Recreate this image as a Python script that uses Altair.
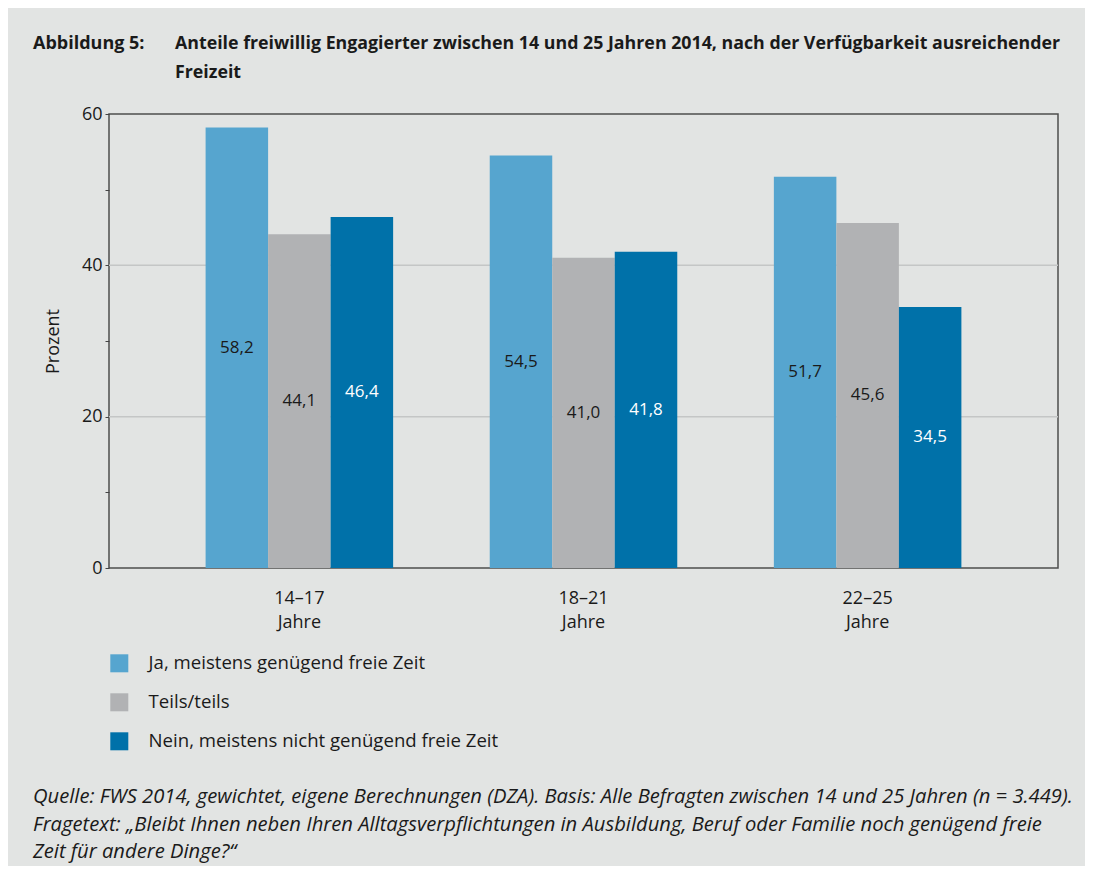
import altair as alt
import pandas as pd

gruppen = ["14–17 Jahre", "18–21 Jahre", "22–25 Jahre"]
antworten = ["Ja, meistens genügend freie Zeit", "Teils/teils", "Nein, meistens nicht genügend freie Zeit"]
ja = [58.2, 54.5, 51.7]
teils = [44.1, 41.0, 45.6]
nein = [46.4, 41.8, 34.5]
farben = ["#56a5cf", "#b1b2b4", "#0071a9"]
y_ticks = list(range(0, 61, 5))
grid_werte = [20, 40]

titel_nr = "Abbildung 5:"
titel_zeilen = ["Anteile freiwillig Engagierter zwischen 14 und 25 Jahren 2014, nach der Verfügbarkeit ausreichender", "Freizeit"]
quelle_zeilen = [
    "Quelle: FWS 2014, gewichtet, eigene Berechnungen (DZA). Basis: Alle Befragten zwischen 14 und 25 Jahren (n = 3.449).",
    "Fragetext: „Bleibt Ihnen neben Ihren Alltagsverpflichtungen in Ausbildung, Beruf oder Familie noch genügend freie",
    "Zeit für andere Dinge?“",
]

rows = []
for i, g in enumerate(gruppen):
    for a, vals in zip(antworten, [ja, teils, nein]):
        rows.append({"Gruppe": g, "Antwort": a, "Wert": vals[i]})
df = pd.DataFrame(rows)

FONT = "Open Sans"
TXT = "#1a1a1a"

x_enc = alt.X("Gruppe:N", sort=gruppen,
              scale=alt.Scale(paddingInner=0.34, paddingOuter=0.34),
              axis=alt.Axis(title=None, labelExpr="split(datum.label, ' ')", labelAngle=0,
                            ticks=False, domain=False, labelFontSize=18, labelLineHeight=24,
                            labelPadding=21, labelColor=TXT, labelFont=FONT))
xo_enc = alt.XOffset("Antwort:N", sort=antworten, scale=alt.Scale(domain=antworten, paddingInner=0, paddingOuter=0))
y_scale = alt.Scale(domain=[0, 60], nice=False)
y_axis = alt.Axis(title="Prozent", values=y_ticks,
                  labelExpr="datum.value % 20 == 0 ? datum.label : ''",
                  grid=False, domain=False, tickSize=4, tickColor="#444444",
                  labelFontSize=18, labelColor=TXT, labelFont=FONT, labelPadding=3,
                  titleFontSize=18, titleFont=FONT, titleFontWeight="normal",
                  titleColor=TXT, titlePadding=19)

grid = alt.Chart(pd.DataFrame({"g": grid_werte})).mark_rule(color="#c4c6c6", strokeWidth=1.5).encode(
    y=alt.Y("g:Q", scale=y_scale, axis=y_axis)
)

bars = alt.Chart(df).mark_bar().encode(
    x=x_enc,
    xOffset=xo_enc,
    y=alt.Y("Wert:Q", scale=y_scale, axis=y_axis),
    color=alt.Color("Antwort:N", sort=antworten,
                    scale=alt.Scale(domain=antworten, range=farben),
                    legend=alt.Legend(title=None, orient="none", legendX=1, legendY=540,
                                      symbolType="square", symbolSize=324, symbolStrokeWidth=0,
                                      symbolOpacity=1, labelFontSize=18.6, labelFont=FONT,
                                      labelColor=TXT, rowPadding=20, labelOffset=20,
                                      labelLimit=0, direction="vertical")),
)

labels = alt.Chart(df).transform_calculate(
    lbl="replace(format(datum.Wert, '.1f'), '.', ',')",
    mitte="datum.Wert / 2",
).mark_text(fontSize=17, font=FONT, baseline="middle").encode(
    x=alt.X("Gruppe:N", sort=gruppen),
    xOffset=alt.XOffset("Antwort:N", sort=antworten),
    y=alt.Y("mitte:Q", scale=y_scale),
    text="lbl:N",
    color=alt.condition(alt.datum.Antwort == antworten[2], alt.value("white"), alt.value(TXT)),
)

one = alt.Data(values=[{"a": 1}])

def txt(s, x, y, **kw):
    return alt.Chart(one).mark_text(align="left", baseline="middle", font=FONT, color=TXT, **kw).encode(
        x=alt.value(x), y=alt.value(y), text=alt.value(s))

title_layers = [txt(titel_nr, -76, -70, fontSize=18, fontWeight="bold")]
for k, z in enumerate(titel_zeilen):
    title_layers.append(txt(z, 66, -70 + 29 * k, fontSize=17.8, fontWeight="bold"))
for k, z in enumerate(quelle_zeilen):
    title_layers.append(txt(z, -76, 683 + 27.5 * k, fontSize=20.2, fontStyle="italic"))

chart = alt.layer(grid, bars, labels, *title_layers).properties(
    width=949, height=454,
    autosize=alt.AutoSizeParams(type="none"),
    padding={"left": 101, "top": 106, "right": 27, "bottom": 298},
    background="#e2e4e3",
).configure_view(stroke="#4d4d4d", strokeWidth=1.5).resolve_scale(color="independent")

chart.save("out.html", embed_options={"renderer": "svg", "actions": False})
